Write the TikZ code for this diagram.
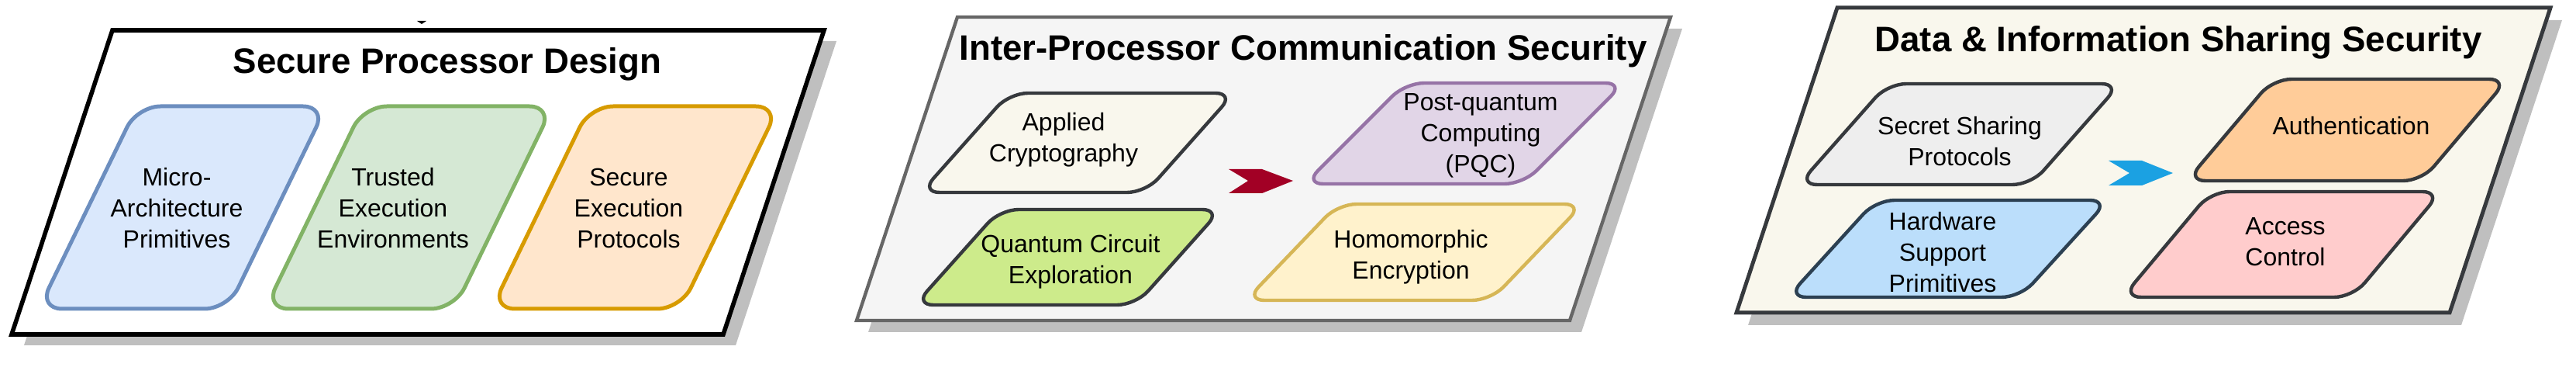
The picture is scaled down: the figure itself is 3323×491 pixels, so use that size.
\documentclass[tikz,border=0pt]{standalone}
\usepackage{fontspec}
\setmainfont{Liberation Sans}
\definecolor{shadowgray}{HTML}{BFBFBF}
\definecolor{ptwofill}{HTML}{F5F5F5}
\definecolor{ptwodraw}{HTML}{666666}
\definecolor{pthreefill}{HTML}{F9F7ED}
\definecolor{darkline}{HTML}{36393D}
\definecolor{bluefill}{HTML}{DAE8FC}
\definecolor{bluedraw}{HTML}{6C8EBF}
\definecolor{greenfill}{HTML}{D5E8D4}
\definecolor{greendraw}{HTML}{82B366}
\definecolor{orangefill}{HTML}{FFE6CC}
\definecolor{orangedraw}{HTML}{D79B00}
\definecolor{creamfill}{HTML}{F9F7ED}
\definecolor{limefill}{HTML}{CDEB8B}
\definecolor{purplefill}{HTML}{E1D5E7}
\definecolor{purpledraw}{HTML}{9673A6}
\definecolor{yellowfill}{HTML}{FFF2CC}
\definecolor{yellowdraw}{HTML}{D6B656}
\definecolor{greyfill}{HTML}{EEEEEE}
\definecolor{skyfill}{HTML}{BBDEFB}
\definecolor{navydraw}{HTML}{2C4052}
\definecolor{peachfill}{HTML}{FFCC99}
\definecolor{pinkfill}{HTML}{FFCCCC}
\definecolor{chevred}{HTML}{A20025}
\definecolor{chevblue}{HTML}{1BA1E2}
\begin{document}
\begin{tikzpicture}[x=0.25pt,y=-0.25pt,
  shadowshape/.style={fill=shadowgray,draw=none},
  panelone/.style={fill=white,draw=black,line width=1.4pt},
  paneltwo/.style={fill=ptwofill,draw=ptwodraw,line width=1.1pt},
  panelthree/.style={fill=pthreefill,draw=darkline,line width=1.25pt},
  titletext/.style={font=\fontsize{11.4}{13}\selectfont\bfseries,anchor=base,inner sep=0pt},
  lbl/.style={font=\fontsize{8}{10}\selectfont,align=center,inner sep=0pt},
  boxa/.style={rounded corners=7.5pt,line width=1.25pt},
  boxb/.style={rounded corners=6pt,line width=1.1pt},
  chevron/.style={draw=none}
]
\useasboundingbox (0,0) rectangle (3323,491);

% ---------- Panel 1 ----------
\fill[shadowshape] (161,53) -- (1079,53) -- (949,445) -- (31,445) -- cycle;
\draw[panelone] (145,39) -- (1063,39) -- (933,431) -- (15,431) -- cycle;
\fill[black] (538,27) -- (550,27) -- (544,31) -- cycle;
\node[titletext] (t1) at (577,95) {Secure Processor Design};

\draw[boxa,fill=bluefill,draw=bluedraw] (177,137) -- (421,137) -- (294,398) -- (50,398) -- cycle;
\node[lbl] (mua) at (228,268) {Micro-\\Architecture\\Primitives};
\draw[boxa,fill=greenfill,draw=greendraw] (469,137) -- (713,137) -- (586,398) -- (342,398) -- cycle;
\node[lbl] (tee) at (507,268) {Trusted\\Execution\\Environments};
\draw[boxa,fill=orangefill,draw=orangedraw] (761,137) -- (1005,137) -- (878,398) -- (634,398) -- cycle;
\node[lbl] (sep) at (811,268) {Secure\\Execution\\Protocols};

% ---------- Panel 2 ----------
\fill[shadowshape] (1250,37) -- (2170,37) -- (2040,428) -- (1120,428) -- cycle;
\draw[paneltwo] (1235,22) -- (2155,22) -- (2025,413) -- (1105,413) -- cycle;
\node[titletext] (t2) at (1681,78) {Inter-Processor Communication Security};

\draw[boxb,fill=creamfill,draw=darkline] (1302,120) -- (1592,120) -- (1478,248) -- (1188,248) -- cycle;
\node[lbl] (acr) at (1372,180) {Applied\\Cryptography};
\draw[boxb,fill=limefill,draw=darkline] (1290,270) -- (1575,270) -- (1465,393) -- (1180,393) -- cycle;
\node[lbl] (qce) at (1381,337) {Quantum Circuit\\Exploration};
\fill[chevred] (1585,218) -- (1628,218) -- (1668,233) -- (1628,249) -- (1585,249) -- (1610,233) -- cycle;
\draw[boxb,fill=purplefill,draw=purpledraw] (1813,107) -- (2095,107) -- (1965,237) -- (1683,237) -- cycle;
\node[lbl] (pqc) at (1910,175) {Post-quantum\\Computing\\(PQC)};
\draw[boxb,fill=yellowfill,draw=yellowdraw] (1726,263) -- (2042,263) -- (1923,387) -- (1607,387) -- cycle;
\node[lbl] (hom) at (1820,331) {Homomorphic\\Encryption};

% ---------- Panel 3 ----------
\fill[shadowshape] (2385,26) -- (3305,26) -- (3175,419) -- (2255,419) -- cycle;
\draw[panelthree] (2370,10) -- (3290,10) -- (3160,403) -- (2240,403) -- cycle;
\node[titletext] (t3) at (2810,67) {Data \& Information Sharing Security};

\draw[boxb,fill=greyfill,draw=darkline] (2435,108) -- (2735,108) -- (2620,238) -- (2320,238) -- cycle;
\node[lbl] (ssp) at (2528,182) {Secret Sharing\\Protocols};
\draw[boxb,fill=skyfill,draw=navydraw] (2420,258) -- (2720,258) -- (2606,383) -- (2306,383) -- cycle;
\node[lbl] (hsp) at (2506,325) {Hardware\\Support\\Primitives};
\fill[chevblue] (2720,207) -- (2763,207) -- (2803,223) -- (2763,239) -- (2720,239) -- (2747,223) -- cycle;
\draw[boxb,fill=peachfill,draw=darkline] (2932,102) -- (3235,102) -- (3124,233) -- (2821,233) -- cycle;
\node[lbl] (aut) at (3033,162) {Authentication};
\draw[boxb,fill=pinkfill,draw=darkline] (2852,247) -- (3149,247) -- (3035,383) -- (2738,383) -- cycle;
\node[lbl] (acc) at (2948,312) {Access\\Control};
\end{tikzpicture}
\end{document}
